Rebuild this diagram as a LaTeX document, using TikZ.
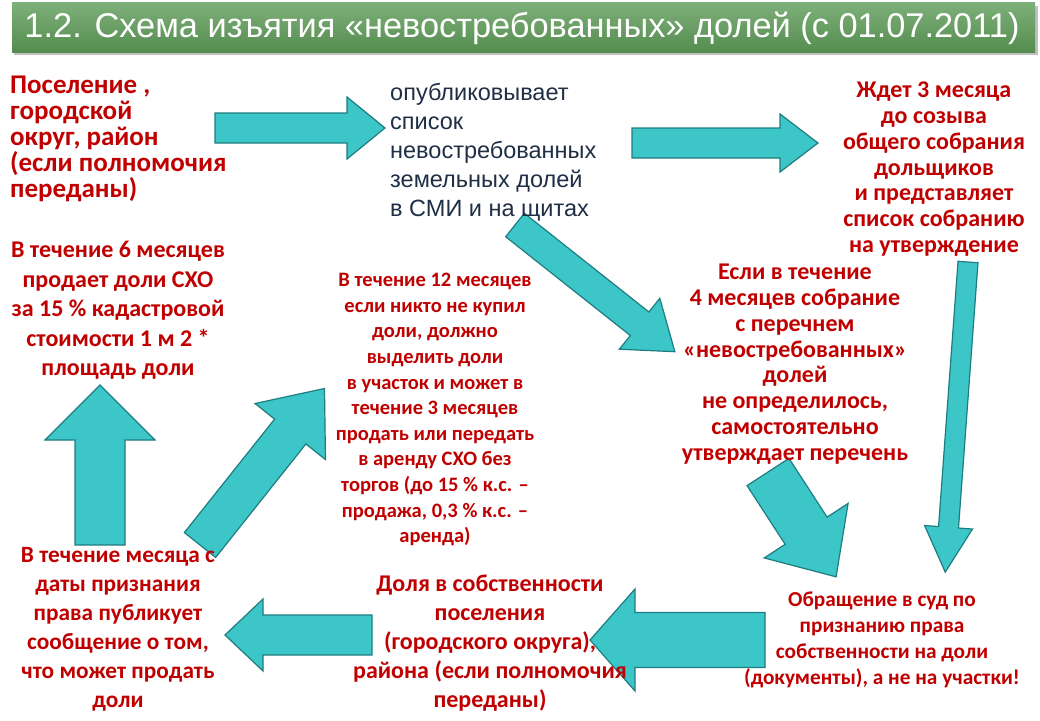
\documentclass[tikz,border=0pt]{standalone}
\usepackage{fontspec}
\setmainfont{Carlito}
\newfontfamily\arialf{Liberation Sans}
\definecolor{tealf}{HTML}{3CC6C8}
\definecolor{teald}{HTML}{1E7D80}
\definecolor{redt}{HTML}{C00000}
\definecolor{bluet}{HTML}{1F2F45}
\definecolor{titleg}{HTML}{5E9C58}
\newcommand\barr[7]{\begin{scope}[shift={(#1,#2)},rotate=#3]
\draw[arr] (0,-#5/2) -- ({#4-#7},-#5/2) -- ({#4-#7},-#6/2) -- (#4,0) -- ({#4-#7},#6/2) -- ({#4-#7},#5/2) -- (0,#5/2) -- cycle;
\end{scope}}
\begin{document}
\begin{tikzpicture}[x=1pt,y=-1pt,
 arr/.style={fill=tealf,draw=teald,line width=1.2pt,line join=miter},
 rt/.style={text=redt,font=\bfseries,align=center,inner sep=0pt},
]
\useasboundingbox (0,0) rectangle (1040,720);
\fill[white] (0,0) rectangle (1040,720);
\fill[gray!50] (14,6) rectangle (1038,55);
\shade[top color=titleg!80!white,bottom color=titleg!90!black] (12,2) rectangle (1035,52);
\node[text=white,inner sep=0pt] (title) at (522,28) {\resizebox{995pt}{!}{\arialf\fontsize{30}{30}\selectfont 1.2. Схема изъятия «невостребованных» долей (с 01.07.2011)}};
% arrows
\barr{215}{128}{0}{170}{30}{62}{38}
\barr{632}{143}{0}{186}{30}{58}{38}
\barr{968}{262}{-94.2}{311}{20}{48}{45}
\barr{515}{225}{-38.4}{204}{30}{65}{45}
\barr{768}{472}{-57}{125}{50}{100}{55}
\barr{765}{640}{180}{175}{55}{102}{45}
\barr{372}{635}{180}{147}{40}{72}{38}
\barr{100}{545}{90}{160}{50}{110}{55}
\barr{200}{545}{51.5}{200}{40}{90}{55}
% texts
\node[rt,align=left,anchor=north west,font=\bfseries\fontsize{27}{26}\selectfont] (n1) at (10,76) {Поселение ,\\городской\\округ, район\\(если полномочия\\переданы)};
\node[text=bluet,align=left,anchor=north west,inner sep=0pt,font=\arialf\fontsize{23.5}{29}\selectfont] (n2) at (390,83) {опубликовывает\\список\\невостребованных\\земельных долей\\в СМИ и на щитах};
\node[rt,anchor=north,font=\bfseries\fontsize{24}{25.7}\selectfont] (n3) at (934,82) {Ждет 3 месяца\\до созыва\\общего собрания\\дольщиков\\и представляет\\список собранию\\на утверждение};
\node[rt,anchor=north,font=\bfseries\fontsize{24}{29.5}\selectfont] (n4) at (118,241) {В течение 6 месяцев\\продает доли СХО\\за 15 \% кадастровой\\стоимости 1 м 2 *\\площадь доли};
\node[rt,anchor=north,font=\bfseries\fontsize{20.5}{25.6}\selectfont] (n5) at (435,273) {В течение 12 месяцев\\если никто не купил\\доли, должно\\выделить доли\\в участок и может в\\течение 3 месяцев\\продать или передать\\в аренду СХО без\\торгов (до 15 \% к.с. –\\продажа, 0,3 \% к.с. –\\аренда)};
\node[rt,anchor=north,font=\bfseries\fontsize{24}{25.8}\selectfont] (n6) at (795,264) {Если в течение\\4 месяцев собрание\\с перечнем\\«невостребованных»\\долей\\не определилось,\\самостоятельно\\утверждает перечень};
\node[rt,anchor=north,font=\bfseries\fontsize{21.3}{26}\selectfont] (n7) at (882,592) {Обращение в суд по\\признанию права\\собственности на доли\\(документы), а не на участки!};
\node[rt,anchor=north,font=\bfseries\fontsize{24}{29}\selectfont] (n8) at (490,575) {Доля в собственности\\поселения\\(городского округа),\\района (если полномочия\\переданы)};
\node[rt,anchor=north,font=\bfseries\fontsize{23.3}{29}\selectfont] (n9) at (118,547) {В течение месяца с\\даты признания\\права публикует\\сообщение о том,\\что может продать\\доли};
\end{tikzpicture}
\end{document}
